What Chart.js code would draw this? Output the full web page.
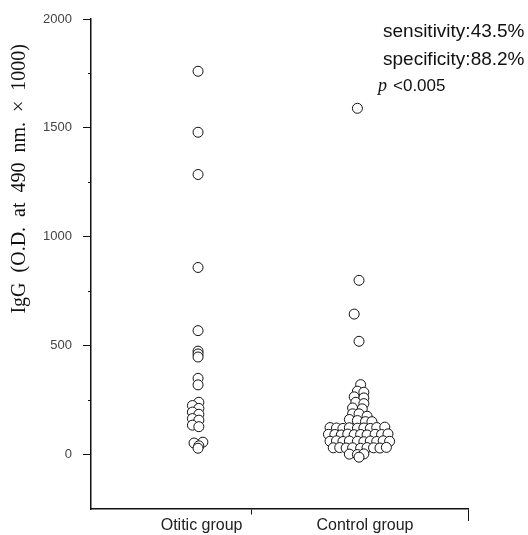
<!DOCTYPE html>
<html lang="en">
<head>
    <meta charset="UTF-8">
    <title>IgG otitic vs control</title>
    <script src="https://cdn.jsdelivr.net/npm/chart.js"></script>
    <style>
        html, body { margin: 0; padding: 0; background: #fff; }
        canvas { display: block; }
    </style>
</head>
<body>
    <canvas id="iggChart" width="528" height="535"></canvas>
    <script>
        // groups and tick values
        const groups = ["Otitic group", "Control group"];
        const groupLabelAt = [1.022, 2.037];
        const xMarkAt = [1.335, 2.677];
        const yTicks = [0, 250, 500, 750, 1000, 1250, 1500, 1750, 2000];
        const yTitle = "IgG  (O.D.  at  490  nm.  \u00d7  1000)";
        const noteLines = ["sensitivity:43.5%", "specificity:88.2%", "<0.005"];

        // IgG values, plus sideways spread of each circle (in group widths)
        const otiticValues = [1760, 1480, 1286, 859, 569, 475, 462, 448, 350, 320,
            240, 225, 212, 195, 185, 165, 158, 135, 128,
            57, 53, 40, 29];
        const otiticOffsets = [0, 0, 0, 0, 0, 0, 0, 0, 0, 0,
            0.005, -0.035, 0.005, -0.035, 0.005, -0.035, 0.005, -0.035, 0.005,
            0.03, -0.025, 0.005, 0];

        const controlValues = [1590, 800, 645, 520, 321, 291, 286, 265, 260, 240, 234, 214, 210,
            187, 187, 176, 161, 156, 151, 151,
            124, 122, 120, 123, 121, 122, 120, 124, 126,
            93, 92, 90, 94, 91, 92, 90, 93, 92, 95,
            61, 63, 60, 62, 61, 59, 62, 60, 63, 61,
            31, 32, 30, 31, 29, 32, 31, 30, 33,
            2, 0, 3, -12];
        const controlOffsets = [-0.01, 0, -0.03, 0, 0.01, -0.01, 0.03, -0.03, 0.03, -0.02, 0.03, -0.04, 0.02,
            -0.04, 0, 0.05, -0.06, -0.01, 0.04, 0.08,
            -0.18, -0.14, -0.10, -0.06, -0.01, 0.03, 0.07, 0.11, 0.16,
            -0.19, -0.15, -0.11, -0.07, -0.03, 0.01, 0.05, 0.10, 0.14, 0.18,
            -0.18, -0.14, -0.10, -0.06, -0.01, 0.03, 0.07, 0.11, 0.15, 0.19,
            -0.16, -0.12, -0.08, -0.04, 0.01, 0.05, 0.09, 0.13, 0.17,
            -0.06, -0.01, 0.03, 0];

        const toPoints = (values, offsets, group) =>
            values.map((v, i) => ({ x: group + offsets[i], y: v }));

        const sans = '"Liberation Sans", Arial, Helvetica, sans-serif';
        const serif = '"Liberation Serif", "Times New Roman", serif';

        // text block at top right
        const notes = {
            id: "notes",
            afterDraw(chart) {
                const ctx = chart.ctx;
                ctx.save();
                ctx.fillStyle = "#111";
                ctx.textAlign = "left";
                ctx.textBaseline = "alphabetic";
                ctx.font = "19px " + sans;
                ctx.fillText(noteLines[0], 383, 37);
                ctx.fillText(noteLines[1], 383, 65);
                ctx.font = "italic 18px " + serif;
                ctx.fillText("p", 378, 91);
                ctx.font = "17px " + sans;
                ctx.fillText(noteLines[2], 393, 91);
                ctx.restore();
            }
        };

        const pointStyle = {
            pointRadius: 5,
            pointHoverRadius: 5,
            pointBackgroundColor: "#fff",
            pointBorderColor: "#111",
            pointBorderWidth: 1
        };

        new Chart(document.getElementById("iggChart"), {
            type: "scatter",
            data: {
                datasets: [
                    { label: groups[0], data: toPoints(otiticValues, otiticOffsets, 1), ...pointStyle },
                    { label: groups[1], data: toPoints(controlValues, controlOffsets, 2), ...pointStyle }
                ]
            },
            options: {
                responsive: false,
                animation: false,
                devicePixelRatio: 1,
                layout: { padding: { top: 19, right: 60, bottom: 0, left: 0 } },
                plugins: { legend: { display: false }, tooltip: { enabled: false } },
                scales: {
                    x: {
                        type: "linear",
                        min: 0.335,
                        max: 2.677,
                        afterBuildTicks: (scale) => {
                            scale.ticks = groupLabelAt.concat(xMarkAt).sort((a, b) => a - b).map(v => ({ value: v }));
                        },
                        afterFit: (scale) => { scale.height = 26; },
                        border: { display: true, color: "#111", width: 1.5 },
                        grid: {
                            drawOnChartArea: false,
                            tickLength: 12,
                            tickWidth: 1,
                            tickColor: (ctx) => xMarkAt.includes(ctx.tick.value) ? "#111" : "rgba(0,0,0,0)",
                            tickBorderDash: (ctx) => ctx.tick.value === xMarkAt[0] ? [5, 100] : []
                        },
                        ticks: {
                            autoSkip: false,
                            maxRotation: 0,
                            minRotation: 0,
                            padding: -5,
                            color: "#222",
                            font: { family: sans, size: 16 },
                            callback: (v) => {
                                const i = groupLabelAt.indexOf(v);
                                return i >= 0 ? groups[i] : "";
                            }
                        }
                    },
                    y: {
                        min: -250,
                        max: 2000,
                        afterBuildTicks: (scale) => { scale.ticks = yTicks.map(v => ({ value: v })); },
                        afterFit: (scale) => { scale.width = 91; },
                        border: { display: true, color: "#111", width: 1.5 },
                        grid: {
                            drawOnChartArea: false,
                            tickLength: 8,
                            tickWidth: 1,
                            tickColor: "#111",
                            tickBorderDash: (ctx) => ctx.tick.value % 500 === 0 ? [] : [0, 5, 10]
                        },
                        ticks: {
                            autoSkip: false,
                            padding: 11,
                            color: "#444",
                            font: { family: sans, size: 13 },
                            callback: (v) => v % 500 === 0 ? v : ""
                        },
                        title: {
                            display: true,
                            text: yTitle + "     ",
                            align: "end",
                            color: "#111",
                            padding: { top: 8, bottom: 0 },
                            font: { family: serif, size: 20, lineHeight: 1.2 }
                        }
                    }
                }
            },
            plugins: [notes]
        });
    </script>
</body>
</html>
